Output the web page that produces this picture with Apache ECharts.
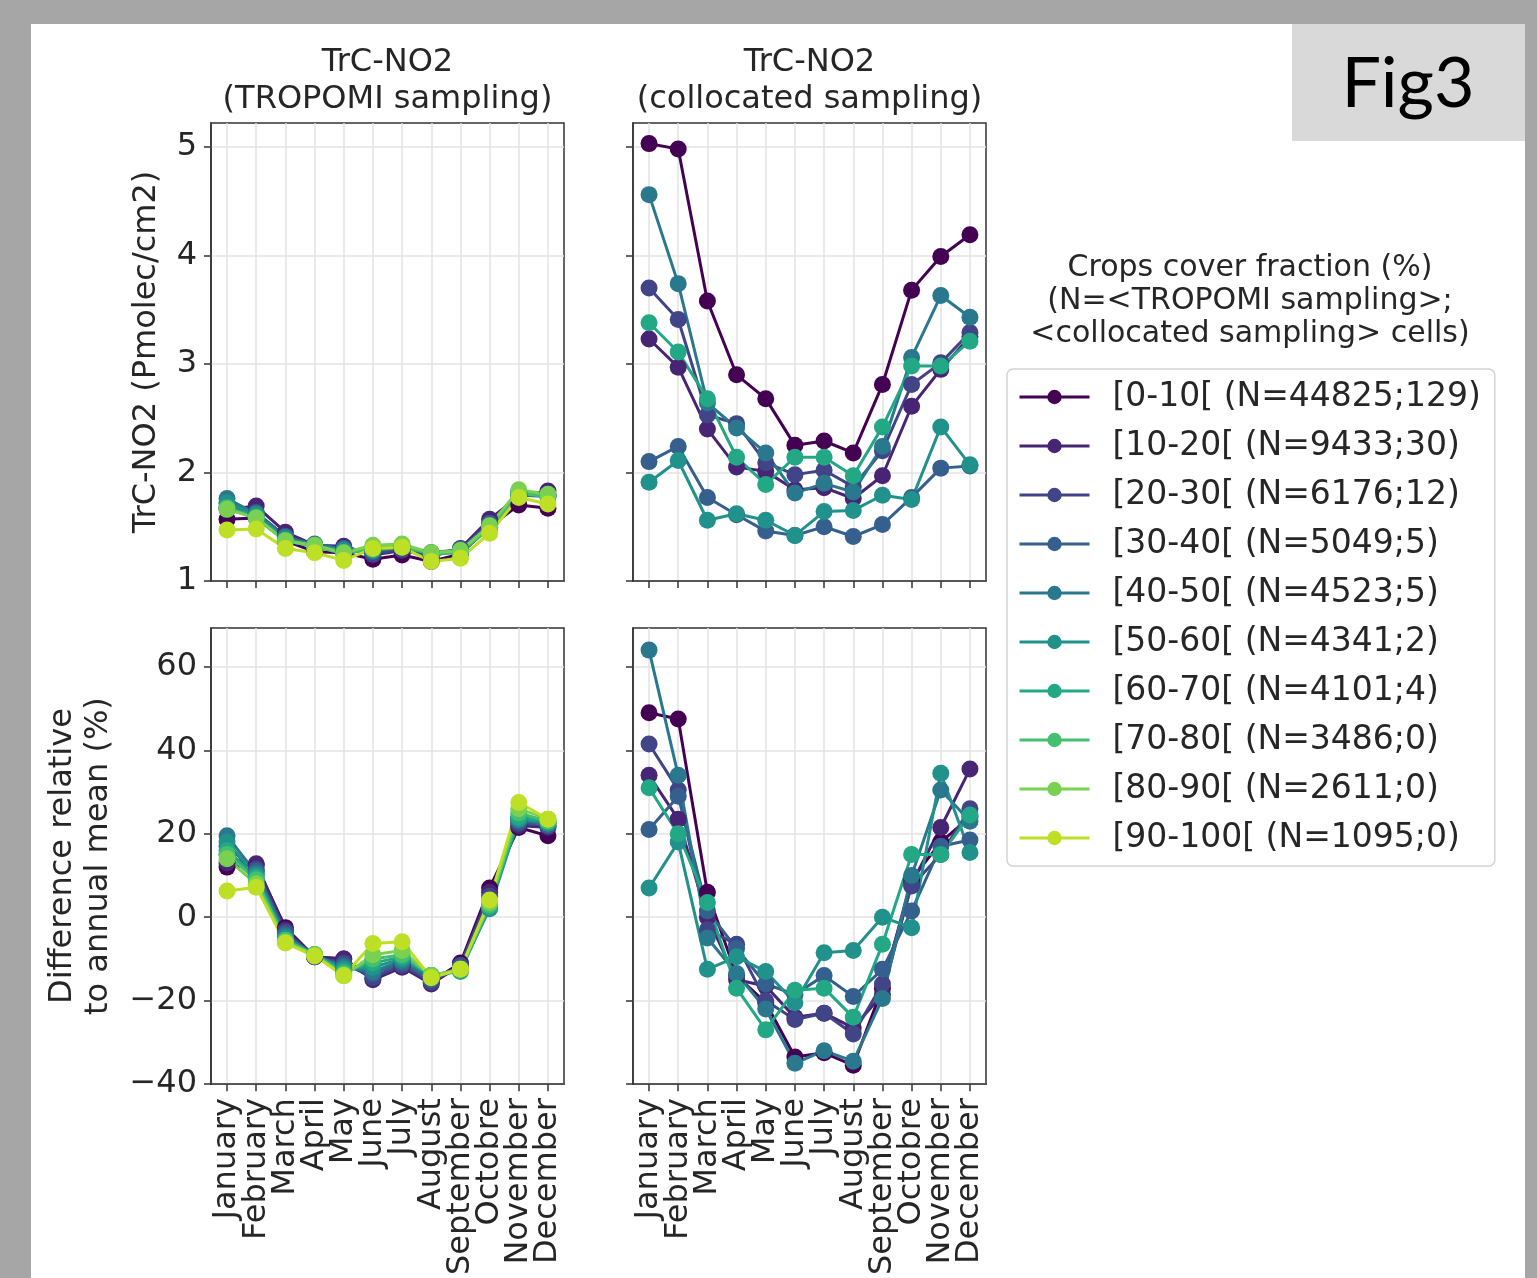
<!DOCTYPE html>
<html>
<head>
<meta charset="utf-8">
<script src="https://cdn.jsdelivr.net/npm/echarts@6/dist/echarts.min.js"></script>
<style>
  html, body { margin: 0; padding: 0; background: #a6a6a6; }
  #chart { width: 1537px; height: 1278px; }
</style>
</head>
<body>
<div id="chart"></div>
<script>
// months as written on the figure
const months = ['January', 'February', 'March', 'April', 'May', 'June', 'July',
  'August', 'September', 'Octobre', 'November', 'December'];

const groups = ['[0-10[ (N=44825;129)', '[10-20[ (N=9433;30)', '[20-30[ (N=6176;12)',
  '[30-40[ (N=5049;5)', '[40-50[ (N=4523;5)', '[50-60[ (N=4341;2)', '[60-70[ (N=4101;4)',
  '[70-80[ (N=3486;0)', '[80-90[ (N=2611;0)', '[90-100[ (N=1095;0)'];

// viridis, one per crops class
const colors = ['#440154', '#482475', '#414487', '#355f8d', '#2a788e',
  '#21918c', '#22a884', '#44bf70', '#7ad151', '#bddf26'];

// TrC-NO2 (Pmolec/cm2), TROPOMI sampling, one row per class
const tropomiNo2 = [
  [1.57, 1.58, 1.37, 1.27, 1.26, 1.20, 1.24, 1.18, 1.25, 1.50, 1.70, 1.67],
  [1.66, 1.69, 1.45, 1.33, 1.32, 1.24, 1.28, 1.23, 1.30, 1.57, 1.78, 1.83],
  [1.68, 1.63, 1.41, 1.32, 1.30, 1.25, 1.29, 1.23, 1.29, 1.53, 1.79, 1.78],
  [1.72, 1.63, 1.41, 1.33, 1.30, 1.27, 1.31, 1.25, 1.29, 1.53, 1.81, 1.79],
  [1.76, 1.62, 1.40, 1.34, 1.29, 1.28, 1.32, 1.26, 1.29, 1.51, 1.82, 1.80],
  [1.72, 1.61, 1.39, 1.33, 1.28, 1.28, 1.31, 1.26, 1.28, 1.49, 1.80, 1.79],
  [1.68, 1.59, 1.37, 1.32, 1.26, 1.29, 1.31, 1.25, 1.26, 1.49, 1.80, 1.78],
  [1.67, 1.58, 1.37, 1.32, 1.25, 1.31, 1.32, 1.25, 1.27, 1.49, 1.81, 1.78],
  [1.66, 1.58, 1.37, 1.33, 1.26, 1.33, 1.34, 1.26, 1.28, 1.51, 1.84, 1.80],
  [1.47, 1.48, 1.30, 1.26, 1.19, 1.30, 1.31, 1.18, 1.21, 1.44, 1.77, 1.71]
];

// difference to annual mean (%), TROPOMI sampling
const tropomiDiff = [
  [12, 12.5, -2.5, -9.5, -10, -14.5, -11.5, -15.5, -11, 7, 21.5, 19.5],
  [13, 12.8, -3, -9.5, -10, -15, -12, -16, -11.5, 6, 22, 21.5],
  [15, 11.5, -3.5, -9.5, -11, -14.5, -11.5, -15.5, -11.5, 5, 22.5, 22],
  [17, 11, -4, -9.5, -11.5, -13.5, -11, -15, -12, 4, 23, 22],
  [19.5, 10.5, -4.5, -9, -12, -13, -10.5, -14.5, -12.5, 3, 23.5, 22.5],
  [18, 10, -5, -9, -12.5, -12, -10, -14, -12.5, 2, 23.5, 22.5],
  [16, 9.5, -5.5, -9, -13, -11, -9.5, -14, -13, 2.5, 24, 23],
  [15, 9, -5.5, -9, -13.5, -10, -9, -14, -12.5, 3, 25, 23],
  [14, 8, -6, -9, -14, -9, -8, -14, -12.5, 3.5, 26, 23.5],
  [6.3, 7.2, -6.2, -9.3, -14, -6.3, -5.9, -14.5, -12.5, 4.1, 27.5, 23.5]
];

// TrC-NO2 (Pmolec/cm2), collocated sampling (classes with cells only)
const collocNo2 = [
  [5.03, 4.98, 3.58, 2.90, 2.68, 2.25, 2.29, 2.18, 2.81, 3.68, 3.99, 4.19],
  [3.23, 2.97, 2.40, 2.05, 2.01, 1.84, 1.86, 1.76, 1.97, 2.61, 2.95, 3.25],
  [3.70, 3.41, 2.53, 2.45, 2.09, 1.98, 2.02, 1.87, 2.20, 2.81, 3.01, 3.29],
  [2.10, 2.24, 1.77, 1.61, 1.46, 1.42, 1.50, 1.41, 1.52, 1.77, 2.04, 2.06],
  [4.56, 3.74, 2.64, 2.41, 2.18, 1.81, 1.90, 1.82, 2.24, 3.06, 3.63, 3.43],
  [1.91, 2.11, 1.56, 1.62, 1.56, 1.42, 1.64, 1.65, 1.79, 1.75, 2.42, 2.07],
  [3.38, 3.11, 2.68, 2.14, 1.89, 2.14, 2.14, 1.97, 2.42, 2.98, 2.98, 3.21]
];

// difference to annual mean (%), collocated sampling
const collocDiff = [
  [49, 47.5, 6, -14, -20.5, -33.5, -32.5, -35.5, -17, 9, 18, 24],
  [34, 23.5, 0, -15, -16.5, -24, -23, -26.5, -18.5, 8, 21.5, 35.5],
  [41.5, 30.5, -3, -6.5, -20, -24.5, -23, -28, -16, 7.5, 15, 26],
  [21, 29, 1.5, -7.5, -16, -18.5, -14, -19, -12.5, 1.5, 17, 18.5],
  [64, 34, -5, -13.5, -22, -35, -32, -34.5, -19.5, 10, 30.5, 23],
  [7, 18, -12.5, -9.5, -13, -20.5, -8.5, -8, 0, -2.5, 34.5, 15.5],
  [31, 20, 3.5, -17, -27, -17.5, -17, -24, -6.5, 15, 15, 24.5]
];

const no2Ticks = [1, 2, 3, 4, 5];
const diffTicks = [-40, -20, 0, 20, 40, 60];

const FONT = 'DejaVu Sans';
const INK = '#262626';
const monthIdx = months.map((m, i) => i);
// month labels overlap each other, so they go on two stacked axes
// (even / odd months) to stop echarts from dropping the end ones
const evenMonths = monthIdx.filter(i => i % 2 === 0);
const oddMonths = monthIdx.filter(i => i % 2 === 1);

let myChart = echarts.init(document.getElementById('chart'), null, { renderer: 'canvas' });

// panel boxes: top-left, top-right, bottom-left, bottom-right
const grids = [
  { left: 211, top: 123, width: 353, height: 458 },
  { left: 633, top: 123, width: 353, height: 458 },
  { left: 211, top: 628, width: 353, height: 458 },
  { left: 633, top: 628, width: 353, height: 458 }
].map(g => Object.assign(g, { show: true, borderColor: '#333', borderWidth: 1.5, backgroundColor: '#fff' }));

const monthLabel = vals => ({
  customValues: vals,
  rotate: 90,
  margin: 14,
  fontSize: 32,
  fontFamily: FONT,
  color: INK,
  formatter: v => months[Math.round(v)]
});

const xAxes = grids.map((g, p) => ({
  type: 'value',
  gridIndex: p,
  position: 'bottom',
  min: -0.55,
  max: 11.55,
  axisLine: { show: true, onZero: false, lineStyle: { color: '#333', width: 1.5 } },
  axisTick: { show: true, customValues: monthIdx, length: 7, lineStyle: { color: '#333', width: 1.5 } },
  axisLabel: Object.assign(monthLabel(evenMonths), { show: p >= 2 }),
  splitLine: { show: true, lineStyle: { color: '#e3e3e3', width: 1.5 } }
}));
[2, 3].forEach(p => {
  xAxes.push({
    type: 'value',
    gridIndex: p,
    position: 'bottom',
    offset: 0,
    min: -0.55,
    max: 11.55,
    axisLine: { show: false },
    axisTick: { show: false },
    splitLine: { show: false },
    axisLabel: monthLabel(oddMonths)
  });
});

const minus = v => String(v).replace('-', '\u2212');

const yAxes = grids.map((g, p) => {
  const top = p < 2;
  const ticks = top ? no2Ticks : diffTicks;
  const ax = {
    type: 'value',
    gridIndex: p,
    min: top ? 1 : -40,
    max: top ? 5.22 : 69.3,
    interval: top ? 1 : 20,
    axisLine: { show: true, onZero: false, lineStyle: { color: '#333', width: 1.5 } },
    axisTick: { show: true, customValues: ticks, length: 7, lineStyle: { color: '#333', width: 1.5 } },
    axisLabel: {
      show: p % 2 === 0,
      customValues: ticks,
      margin: 14,
      fontSize: 32,
      fontFamily: FONT,
      color: INK,
      formatter: minus
    },
    splitLine: { show: true, lineStyle: { color: '#e3e3e3', width: 1.5 } }
  };
  if (p === 0) {
    ax.name = 'TrC-NO2 (Pmolec/cm2)';
    ax.nameLocation = 'middle';
    ax.nameGap = 48;
    ax.nameTextStyle = { fontSize: 32, fontFamily: FONT, color: INK };
  }
  if (p === 2) {
    ax.name = 'Difference relative\nto annual mean (%)';
    ax.nameLocation = 'middle';
    ax.nameGap = 94;
    ax.nameTextStyle = { fontSize: 32, fontFamily: FONT, color: INK, lineHeight: 36 };
  }
  return ax;
});

const series = [];
function addPanel(rows, p) {
  rows.forEach((vals, i) => {
    series.push({
      name: groups[i],
      type: 'line',
      xAxisIndex: p,
      yAxisIndex: p,
      data: vals.map((v, k) => [k, v]),
      symbol: 'circle',
      symbolSize: 17,
      showSymbol: true,
      color: colors[i],
      lineStyle: { width: 3, color: colors[i] },
      itemStyle: { color: colors[i] },
      emphasis: { disabled: true },
      animation: false
    });
  });
}
addPanel(tropomiNo2, 0);
addPanel(collocNo2, 1);
addPanel(tropomiDiff, 2);
addPanel(collocDiff, 3);

let option = {
  backgroundColor: 'transparent',
  animation: false,
  grid: grids,
  xAxis: xAxes,
  yAxis: yAxes,
  legend: {
    orient: 'vertical',
    left: 1007,
    top: 369,
    data: groups,
    itemWidth: 70,
    itemHeight: 18,
    itemGap: 13,
    padding: [10, 14, 10, 11],
    borderColor: '#d3d3d3',
    borderWidth: 1.5,
    borderRadius: 6,
    backgroundColor: '#fff',
    selectedMode: false,
    lineStyle: { width: 3 },
    textStyle: { fontSize: 33, fontFamily: FONT, color: INK, lineHeight: 36, padding: [0, 0, 0, 18] }
  },
  graphic: [
    // white sheet on the grey slide
    { type: 'rect', z: -10, shape: { x: 31, y: 24, width: 1494, height: 1260 }, style: { fill: '#fff' } },
    { type: 'rect', z: -5, shape: { x: 1292, y: 24, width: 233, height: 117 }, style: { fill: '#d9d9d9' } },
    { type: 'text', x: 1408, y: 84, style: { text: 'Fig3', fontSize: 70, fontFamily: 'Lato', fill: '#000', align: 'center', verticalAlign: 'middle' } },
    { type: 'text', x: 387.5, y: 44, style: { text: 'TrC-NO2\n(TROPOMI sampling)', fontSize: 32, fontFamily: FONT, fill: INK, align: 'center', verticalAlign: 'top', lineHeight: 37 } },
    { type: 'text', x: 809.5, y: 44, style: { text: 'TrC-NO2\n(collocated sampling)', fontSize: 32, fontFamily: FONT, fill: INK, align: 'center', verticalAlign: 'top', lineHeight: 37 } },
    { type: 'text', x: 1250, y: 252, style: { text: 'Crops cover fraction (%)\n(N=<TROPOMI sampling>;\n<collocated sampling> cells)', fontSize: 30, fontFamily: FONT, fill: INK, align: 'center', verticalAlign: 'top', lineHeight: 33 } }
  ],
  series: series
};

myChart.setOption(option, true);
</script>
</body>
</html>
